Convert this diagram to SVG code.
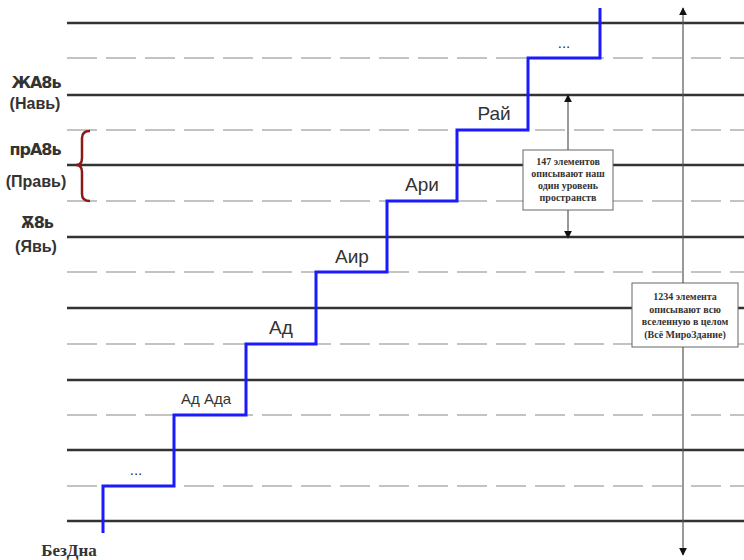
<svg xmlns="http://www.w3.org/2000/svg" width="744" height="560" viewBox="0 0 744 560">
<style>
.solid{stroke:#333;stroke-width:2.5}
.dash{stroke:#b0b0b0;stroke-width:1.6;stroke-dasharray:30 9}
.stair{fill:none;stroke:#1a1aff;stroke-width:3}
.lbl{font-family:"Liberation Sans",Arial,sans-serif;fill:#333;text-anchor:middle}
.side{font-family:"Liberation Sans",Arial,sans-serif;font-weight:bold;font-size:16px;fill:#333;text-anchor:middle}
.glyph{font-family:"DejaVu Sans",sans-serif;font-size:16px;font-weight:bold;fill:#333;text-anchor:middle;letter-spacing:-1px}
.box{fill:#fff;stroke:#666;stroke-width:1}
.btxt{font-family:"Liberation Serif","Times New Roman",serif;font-weight:bold;font-size:10px;fill:#333;text-anchor:middle}
.arr{stroke:#555;stroke-width:1.2}
</style>
<defs>
<marker id="ah" viewBox="0 0 10 10" refX="9" refY="5" markerWidth="8" markerHeight="8" orient="auto-start-reverse" markerUnits="userSpaceOnUse">
<path d="M0,0 L10,5 L0,10 z" fill="#111"/>
</marker>
</defs>
<rect width="744" height="560" fill="#fff"/>
<g id="levels">
<line class="solid" x1="67" y1="23" x2="744" y2="23"/>
<line class="solid" x1="67" y1="95" x2="744" y2="95"/>
<line class="solid" x1="67" y1="165" x2="744" y2="165"/>
<line class="solid" x1="67" y1="237" x2="744" y2="237"/>
<line class="solid" x1="67" y1="308" x2="744" y2="308"/>
<line class="solid" x1="67" y1="380" x2="744" y2="380"/>
<line class="solid" x1="67" y1="450" x2="744" y2="450"/>
<line class="solid" x1="67" y1="521" x2="744" y2="521"/>
<line class="dash" x1="67" y1="58" x2="744" y2="58"/>
<line class="dash" x1="67" y1="130" x2="744" y2="130"/>
<line class="dash" x1="67" y1="201" x2="744" y2="201"/>
<line class="dash" x1="67" y1="272" x2="744" y2="272"/>
<line class="dash" x1="67" y1="344" x2="744" y2="344"/>
<line class="dash" x1="67" y1="415" x2="744" y2="415"/>
<line class="dash" x1="67" y1="486" x2="744" y2="486"/>
</g>
<g id="connectors">
<path class="stair" d="M103,533 V486 H174 V415 H246 V344 H316 V272 H387 V201 H457 V130 H528 V58 H600 V8"/>
<line class="arr" x1="683" y1="8" x2="683" y2="555" marker-start="url(#ah)" marker-end="url(#ah)"/>
<line class="arr" x1="568" y1="95" x2="568" y2="238" marker-start="url(#ah)" marker-end="url(#ah)"/>
<path d="M90,131 Q82,131 82,138 V158 Q82,165 76,165 Q82,165 82,172 V194 Q82,201 90,201" fill="none" stroke="#8b1a1a" stroke-width="2.5"/>
</g>
<g id="steps">
<text class="lbl" x="136" y="475" font-size="15">...</text>
<text class="lbl" x="206" y="404" font-size="15">Ад Ада</text>
<text class="lbl" x="281" y="334" font-size="19">Ад</text>
<text class="lbl" x="352" y="263" font-size="19">Аир</text>
<text class="lbl" x="422" y="191" font-size="19">Ари</text>
<text class="lbl" x="494" y="120" font-size="19">Рай</text>
<text class="lbl" x="564" y="48" font-size="15">...</text>
</g>
<g id="nav">
<text class="glyph" x="36" y="88">ЖА8ь</text>
<text class="side" x="35" y="109">(Навь)</text>
</g>
<g id="prav">
<text class="glyph" x="35" y="155">прА8ь</text>
<text class="side" x="36" y="187">(Правь)</text>
</g>
<g id="yav">
<text class="glyph" x="37" y="228">Ѫ8ь</text>
<text class="side" x="36" y="252">(Явь)</text>
</g>
<g id="bezdna">
<text x="69" y="556" font-family="Liberation Serif,'Times New Roman',serif" font-weight="bold" font-size="17" fill="#333" text-anchor="middle">БезДна</text>
</g>
<g id="box147">
<rect class="box" x="523" y="150" width="90" height="60"/>
<text class="btxt" x="568" y="165">147 элементов</text>
<text class="btxt" x="568" y="177">описывают наш</text>
<text class="btxt" x="568" y="189">один уровень</text>
<text class="btxt" x="568" y="201">пространств</text>
</g>
<g id="box1234">
<rect class="box" x="632" y="283" width="106" height="64"/>
<text class="btxt" x="685" y="300" font-size="11">1234 элемента</text>
<text class="btxt" x="685" y="312.5" font-size="11">описывают всю</text>
<text class="btxt" x="685" y="325" font-size="11">вселенную в целом</text>
<text class="btxt" x="685" y="337.5" font-size="11">(Всё МироЗдание)</text>
</g>
</svg>
